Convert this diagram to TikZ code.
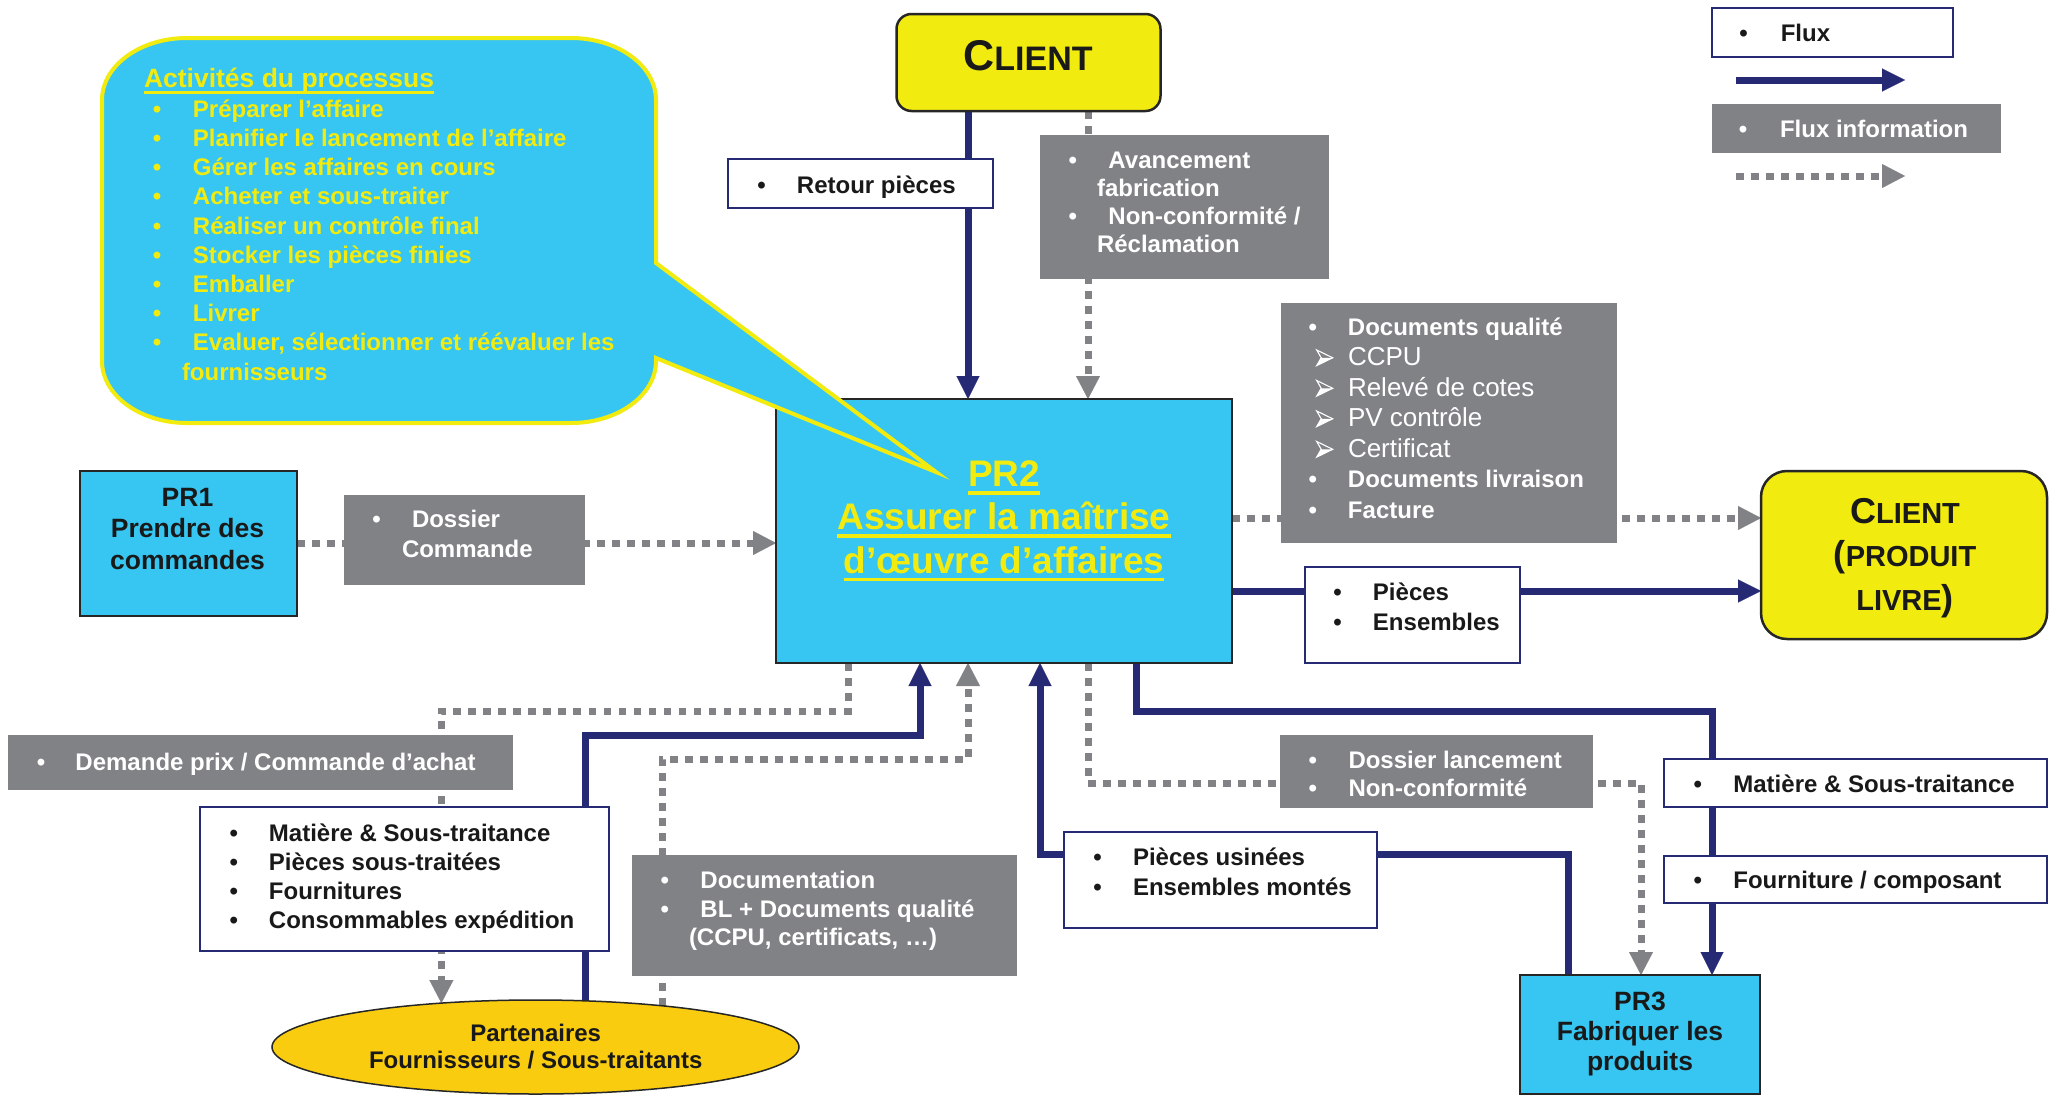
\documentclass[tikz,border=0pt]{standalone}
\usepackage{fontspec}
\setmainfont{Liberation Sans}
\usetikzlibrary{arrows.meta,shapes.geometric}
\pgfdeclarelayer{lines}
\pgfsetlayers{lines,main}

\definecolor{navyc}{RGB}{38,42,116}
\definecolor{grayc}{RGB}{129,130,134}
\definecolor{cyanc}{RGB}{54,198,241}
\definecolor{yelc}{RGB}{242,235,15}
\definecolor{goldc}{RGB}{250,204,16}

% font size in bp with line spacing
\newcommand\fs[2]{\fontsize{#1bp}{#2bp}\selectfont}
% strut fixing the height of a first line
\newcommand\sst{\rule{0pt}{1em}}
% bullet followed by a fixed indent
\newcommand\bul[1]{\makebox[#1bp][l]{•}}
% indented sub item (regular weight), its arrow mark is drawn separately
\newcommand\subarr[1]{\hspace*{39.5bp}{\mdseries\fs{26}{30.5}#1}}
% thick underline: depth, thickness, text
\newsavebox\ulbox
\newcommand\ulin[3]{\sbox\ulbox{#3}\rlap{\rule[-#1bp]{\wd\ulbox}{#2bp}}\usebox\ulbox}

\tikzset{
  flux/.style={draw=navyc, line width=7bp,
    -{Triangle[length=23bp,width=23bp,line width=0.1bp]}},
  info/.style={draw=grayc, line width=7bp, dash pattern=on 7.5bp off 7.5bp,
    -{Triangle[length=23bp,width=24bp,line width=0.1bp]}},
  wbox/.style={draw=navyc, line width=2bp, fill=white, inner sep=0pt, outer sep=0pt, anchor=north west},
  gbox/.style={fill=grayc, inner sep=0pt, outer sep=0pt, anchor=north west},
  proc/.style={draw=black!85, line width=2bp, fill=cyanc, inner sep=0pt, outer sep=0pt, anchor=north west},
  cli/.style={draw=black!85, line width=2.5bp, fill=yelc, inner sep=0pt, outer sep=0pt, anchor=north west},
  tx/.style={inner sep=0pt, outer sep=0pt, anchor=north west, align=left},
  bubble/.style={draw=yelc, line width=4bp, fill=cyanc, line join=miter},
  subarrow/.pic={
    \fill[white] (4.5,7.8) -- (16,7.8) -- (0,15.6) -- cycle;
    \draw[white, line width=1.1bp, line join=miter] (0,0) -- (16,7.8) -- (0,15.6) -- (4.5,7.8) -- cycle;
  },
}

\begin{document}
\begin{tikzpicture}[x=1bp,y=-1bp]
\useasboundingbox (0,0) rectangle (2049,1095);

% ---------- processes and external parties ----------
\node[proc, minimum width=456bp, minimum height=264bp] (pr2) at (776,399) {};
\node[proc, minimum width=217bp, minimum height=145bp] (pr1) at (80,470.5) {};
\node[proc, minimum width=240bp, minimum height=119bp] (pr3) at (1520,975) {};
\node[cli, rounded corners=15bp, minimum width=264bp, minimum height=97bp] (c1) at (896.5,14) {};
\node[cli, rounded corners=26bp, minimum width=286bp, minimum height=168bp] (c2) at (1761,471) {};
\node[ellipse, draw=black!85, line width=1.5bp, fill=goldc, minimum width=527bp,
      minimum height=94bp, inner sep=0pt, outer sep=0pt] (part) at (535.5,1047) {};

% ---------- speech bubble listing the activities ----------
\path[bubble] (656,263) -- (656,100)
  .. controls (656,65.8) and (618,38) .. (571,38) -- (187,38)
  .. controls (140,38) and (102,65.8) .. (102,100) -- (102,361)
  .. controls (102,395.2) and (140,423) .. (187,423) -- (571,423)
  .. controls (618,423) and (656,395.2) .. (656,361) -- (656,358)
  -- (936,472) -- cycle;

% ---------- flow labels ----------
\node[wbox, minimum width=265bp, minimum height=49bp] (retour) at (728,159) {};
\node[gbox, minimum width=289bp, minimum height=144bp] (av) at (1040,135) {};
\node[gbox, minimum width=336bp, minimum height=240bp] (docq) at (1281,303) {};
\node[wbox, minimum width=215.5bp, minimum height=96bp] (pieces) at (1304.5,567) {};
\node[gbox, minimum width=241bp, minimum height=90bp] (dosc) at (344,495) {};
\node[gbox, minimum width=505bp, minimum height=55bp] (dem) at (8,735) {};
\node[wbox, minimum width=408.7bp, minimum height=144bp] (matl) at (200,807) {};
\node[gbox, minimum width=385bp, minimum height=121bp] (docu) at (632,855) {};
\node[wbox, minimum width=312.5bp, minimum height=95.5bp] (pusi) at (1064,832) {};
\node[gbox, minimum width=313bp, minimum height=73bp] (dosl) at (1280,735) {};
\node[wbox, minimum width=383bp, minimum height=48.3bp] (matr) at (1664,759) {};
\node[wbox, minimum width=383bp, minimum height=47bp] (four) at (1664,856) {};
% legend
\node[wbox, minimum width=241.3bp, minimum height=49bp] (lflux) at (1711.7,8) {};
\node[gbox, minimum width=289.3bp, minimum height=49bp] (linfo) at (1711.7,104) {};

% ---------- texts ----------
\node[tx, text=yelc, font=\bfseries\fs{26.5}{30}] (bubT) at (144,60.5)
  {\sst\ulin{6.5}{3}{Activités du processus}};
\node[tx, text=yelc, font=\bfseries\fs{24}{29.2}] (bubL) at (152.8,93.3)
  {\sst\bul{40.2}Préparer l’affaire\\
   \bul{40.2}Planifier le lancement de l’affaire\\
   \bul{40.2}Gérer les affaires en cours\\
   \bul{40.2}Acheter et sous-traiter\\
   \bul{40.2}Réaliser un contrôle final\\
   \bul{40.2}Stocker les pièces finies\\
   \bul{40.2}Emballer\\
   \bul{40.2}Livrer\\
   \bul{40.2}Evaluer, sélectionner et réévaluer les\\
   \hspace*{29.2bp}fournisseurs};

\node[tx, anchor=north, align=center, text=black!90, font=\bfseries\fs{43}{43}] (c1T) at (1028,27)
  {\sst C{\fs{34}{34}LIENT}};
\node[tx, anchor=north, align=center, text=black!90, font=\bfseries\fs{36}{43.5}] (c2T) at (1905,487)
  {\sst C{\fs{29}{43.5}LIENT}\\({\fs{29}{43.5}PRODUIT}\\{\fs{29}{43.5}LIVRE})};

\node[tx, anchor=north, align=center, text=yelc, font=\bfseries\fs{37}{43.2}] (pr2T) at (1004,449.7)
  {\sst\ulin{8}{3.5}{PR2}\\\ulin{8}{3.5}{Assurer la maîtrise}\\\ulin{8}{3.5}{d’œuvre d’affaires}};
\node[tx, anchor=north, align=center, text=black!90, font=\bfseries\fs{26.5}{31.7}] (pr1T) at (187.5,479.5)
  {\sst PR1\\Prendre des\\commandes};
\node[tx, anchor=north, align=center, text=black!90, font=\bfseries\fs{26.5}{30}] (pr3T) at (1640,983.5)
  {\sst PR3\\Fabriquer les\\produits};
\node[tx, anchor=north, align=center, text=black!90, font=\bfseries\fs{24}{27}] (partT) at (535.7,1017.5)
  {\sst Partenaires\\Fournisseurs / Sous-traitants};

\node[tx, text=black!90, font=\bfseries\fs{24}{29}] (retourT) at (757.4,169)
  {\sst\bul{39.6}Retour pièces};
\node[tx, text=white, font=\bfseries\fs{24}{28.3}] (avT) at (1068.6,144)
  {\sst\bul{39.9}Avancement\\\hspace*{28.4bp}fabrication\\\bul{39.9}Non-conformité /\\\hspace*{28.4bp}Réclamation};
\node[tx, text=white, font=\bfseries\fs{24}{30.5}] (docqT) at (1308.5,311)
  {\sst\bul{39.5}Documents qualité\\
   \subarr{CCPU}\\
   \subarr{Relevé de cotes}\\
   \subarr{PV contrôle}\\
   \subarr{Certificat}\\
   \bul{39.5}Documents livraison\\
   \bul{39.5}Facture};
\pic at (1316.7,350) {subarrow};
\pic at (1316.7,380.5) {subarrow};
\pic at (1316.7,411) {subarrow};
\pic at (1316.7,441.5) {subarrow};
\node[tx, text=black!90, font=\bfseries\fs{24}{30}] (piecesT) at (1333.4,576)
  {\sst\bul{39.6}Pièces\\\bul{39.6}Ensembles};
\node[tx, text=white, font=\bfseries\fs{24}{29.3}] (doscT) at (372.3,503.7)
  {\sst\bul{39.7}Dossier\\\hspace*{29.7bp}Commande};
\node[tx, text=white, font=\bfseries\fs{24}{29}] (demT) at (36.8,746)
  {\sst\bul{38.7}Demande prix / Commande d’achat};
\node[tx, text=black!90, font=\bfseries\fs{24}{29.2}] (matlT) at (229.5,817)
  {\sst\bul{39.5}Matière \& Sous-traitance\\
   \bul{39.5}Pièces sous-traitées\\
   \bul{39.5}Fournitures\\
   \bul{39.5}Consommables expédition};
\node[tx, text=white, font=\bfseries\fs{24}{28.8}] (docuT) at (660.6,864.3)
  {\sst\bul{39.9}Documentation\\\bul{39.9}BL + Documents qualité\\\hspace*{28.4bp}(CCPU, certificats, …)};
\node[tx, text=black!90, font=\bfseries\fs{24}{30}] (pusiT) at (1093.3,841)
  {\sst\bul{39.7}Pièces usinées\\\bul{39.7}Ensembles montés};
\node[tx, text=white, font=\bfseries\fs{24}{28.7}] (doslT) at (1308.6,744)
  {\sst\bul{39.9}Dossier lancement\\\bul{39.9}Non-conformité};
\node[tx, text=black!90, font=\bfseries\fs{24}{29}] (matrT) at (1693.5,768.7)
  {\sst\bul{39.9}Matière \& Sous-traitance};
\node[tx, text=black!90, font=\bfseries\fs{24}{29}] (fourT) at (1693.5,864.3)
  {\sst\bul{39.9}Fourniture / composant};
\node[tx, text=black!90, font=\bfseries\fs{24}{29}] (lfluxT) at (1739.3,17.7)
  {\sst\bul{41.5}Flux};
\node[tx, text=white, font=\bfseries\fs{24}{29}] (linfoT) at (1738.8,113)
  {\sst\bul{41.2}Flux information};

% ---------- bend points of the connectors ----------
\coordinate (xA) at (968,0);
\coordinate (xB) at (1088,0);
\coordinate (yD) at (0,518);
\coordinate (yE) at (0,591);
\coordinate (fA) at (848,711);
\coordinate (gA) at (920,735);
\coordinate (hA) at (968,759);
\coordinate (iS) at (1568,854);
\coordinate (iA) at (1040,854);
\coordinate (jA) at (1088,783);
\coordinate (jB) at (1641,783);
\coordinate (kA) at (1136,711);
\coordinate (kB) at (1712,711);
\coordinate (lgA) at (1736,80);
\coordinate (lgB) at (1905,80);
\coordinate (lgC) at (1736,176);
\coordinate (lgD) at (1905,176);

% ---------- connectors (behind the boxes) ----------
\begin{pgfonlayer}{lines}
\fill[white] (0,0) rectangle (2049,1095);
\draw[flux] (c1.south -| xA) -- (pr2.north -| xA);
\draw[info] (c1.south -| xB) -- (pr2.north -| xB);
\draw[info] (pr1.east) -- (pr1.east -| pr2.west);
\draw[info] (pr2.east |- yD) -- (c2.west |- yD);
\draw[flux] (pr2.east |- yE) -- (c2.west |- yE);
\draw[info] (pr2.south -| fA) -- (fA) -| (part.155.4);
\draw[flux] (part.43.6) |- (gA) -- (gA |- pr2.south);
\draw[info] (part.18.9) |- (hA) -- (hA |- pr2.south);
\draw[flux] (pr3.north -| iS) -- (iS) -- (iA) -- (iA |- pr2.south);
\draw[info] (pr2.south -| jA) -- (jA) -- (jB) -- (jB |- pr3.north);
\draw[flux] (pr2.south -| kA) -- (kA) -- (kB) -- (kB |- pr3.north);
\draw[flux] (lgA) -- (lgB);
\draw[info] (lgC) -- (lgD);
\end{pgfonlayer}
\end{tikzpicture}
\end{document}
